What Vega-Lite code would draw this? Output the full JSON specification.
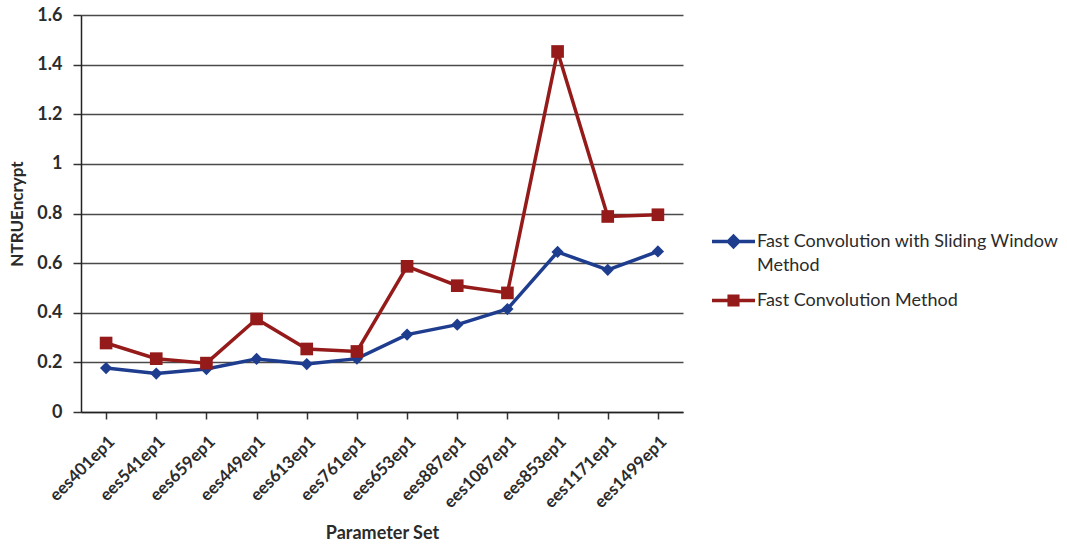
{
  "$schema": "https://vega.github.io/schema/vega-lite/v6.json",
  "autosize": "none",
  "width": 602,
  "height": 397,
  "padding": {"left": 81, "top": 15, "right": 384, "bottom": 132},
  "background": "white",
  "config": {
    "font": "Lato",
    "view": {"stroke": null},
    "axis": {"labelFont": "Lato", "titleFont": "Lato", "labelColor": "#2b2b2b", "titleColor": "#2b2b2b"}
  },
  "data": {
    "values": [
      {"param": "ees401ep1", "series": "Fast Convolution with Sliding Window Method", "value": 0.177},
      {"param": "ees541ep1", "series": "Fast Convolution with Sliding Window Method", "value": 0.155},
      {"param": "ees659ep1", "series": "Fast Convolution with Sliding Window Method", "value": 0.173},
      {"param": "ees449ep1", "series": "Fast Convolution with Sliding Window Method", "value": 0.214},
      {"param": "ees613ep1", "series": "Fast Convolution with Sliding Window Method", "value": 0.193},
      {"param": "ees761ep1", "series": "Fast Convolution with Sliding Window Method", "value": 0.215},
      {"param": "ees653ep1", "series": "Fast Convolution with Sliding Window Method", "value": 0.312},
      {"param": "ees887ep1", "series": "Fast Convolution with Sliding Window Method", "value": 0.352},
      {"param": "ees1087ep1", "series": "Fast Convolution with Sliding Window Method", "value": 0.415},
      {"param": "ees853ep1", "series": "Fast Convolution with Sliding Window Method", "value": 0.645},
      {"param": "ees1171ep1", "series": "Fast Convolution with Sliding Window Method", "value": 0.573},
      {"param": "ees1499ep1", "series": "Fast Convolution with Sliding Window Method", "value": 0.647},
      {"param": "ees401ep1", "series": "Fast Convolution Method", "value": 0.278},
      {"param": "ees541ep1", "series": "Fast Convolution Method", "value": 0.215},
      {"param": "ees659ep1", "series": "Fast Convolution Method", "value": 0.197},
      {"param": "ees449ep1", "series": "Fast Convolution Method", "value": 0.375},
      {"param": "ees613ep1", "series": "Fast Convolution Method", "value": 0.254},
      {"param": "ees761ep1", "series": "Fast Convolution Method", "value": 0.244},
      {"param": "ees653ep1", "series": "Fast Convolution Method", "value": 0.587},
      {"param": "ees887ep1", "series": "Fast Convolution Method", "value": 0.509},
      {"param": "ees1087ep1", "series": "Fast Convolution Method", "value": 0.48},
      {"param": "ees853ep1", "series": "Fast Convolution Method", "value": 1.453},
      {"param": "ees1171ep1", "series": "Fast Convolution Method", "value": 0.788},
      {"param": "ees1499ep1", "series": "Fast Convolution Method", "value": 0.795}
    ]
  },
  "encoding": {
    "x": {
      "field": "param",
      "type": "nominal",
      "sort": null,
      "scale": {"paddingInner": 0, "paddingOuter": 0},
      "axis": {
        "title": "Parameter Set",
        "titleFontSize": 18,
        "titleFontWeight": "bold",
        "titlePadding": 14,
        "labelAngle": -45,
        "labelFontSize": 17,
        "labelFontWeight": "bold",
        "labelPadding": 14,
        "bandPosition": 0,
        "tickSize": 7,
        "tickColor": "#333333",
        "domainColor": "#222222",
        "tickWidth": 1.5,
        "domainWidth": 1.5,
        "grid": false
      }
    },
    "y": {
      "field": "value",
      "type": "quantitative",
      "scale": {"domain": [0, 1.6], "nice": false},
      "axis": {
        "title": "NTRUEncrypt",
        "titleFontSize": 17,
        "titleFontWeight": "bold",
        "titlePadding": 10,
        "values": [0, 0.2, 0.4, 0.6, 0.8, 1, 1.2, 1.4, 1.6],
        "format": ".1~f",
        "labelFontSize": 18,
        "labelFontWeight": "bold",
        "labelPadding": 11,
        "tickSize": 8,
        "tickColor": "#333333",
        "domainColor": "#222222",
        "tickWidth": 1.5,
        "domainWidth": 1.5,
        "grid": true,
        "gridColor": "#4a4a4a",
        "gridWidth": 1.6
      }
    },
    "color": {
      "field": "series",
      "type": "nominal",
      "scale": {
        "domain": ["Fast Convolution with Sliding Window Method", "Fast Convolution Method"],
        "range": ["#1f3d8f", "#951b1b"]
      },
      "legend": {
        "title": null,
        "orient": "none",
        "legendX": 629,
        "legendY": 203,
        "padding": 0,
        "symbolType": "M-1,0H1",
        "symbolSize": 1849,
        "symbolStrokeWidth": 3.5,
        "labelFont": "Lato",
        "labelFontSize": 18,
        "labelColor": "#2b2b2b",
        "labelLimit": 400,
        "labelOffset": 0,
        "rowPadding": 2,
        "labelExpr": "datum.label == 'Fast Convolution with Sliding Window Method' ? ['Fast Convolution with Sliding Window', 'Method'] : datum.label",
        "encode": {
          "labels": {"update": {"lineHeight": {"value": 24}}},
          "symbols": {
            "update": {
              "shape": {"signal": "datum.value == 'Fast Convolution Method' ? 'M-1,0H1M-0.2,-0.2H0.2V0.2H-0.2Z' : 'M-1,0H1M0,-0.24L0.24,0L0,0.24L-0.24,0Z'"},
              "size": {"value": 1849},
              "fill": {"signal": "datum.value == 'Fast Convolution Method' ? '#951b1b' : '#1f3d8f'"},
              "stroke": {"signal": "datum.value == 'Fast Convolution Method' ? '#951b1b' : '#1f3d8f'"},
              "strokeWidth": {"value": 3.5},
              "strokeOpacity": {"value": 1},
              "fillOpacity": {"value": 1},
              "opacity": {"value": 1}
            }
          }
        }
      }
    }
  },
  "layer": [
    {
      "mark": {"type": "line", "strokeWidth": 3.5}
    },
    {
      "transform": [{"filter": "datum.series == 'Fast Convolution with Sliding Window Method'"}],
      "mark": {"type": "point", "filled": true, "opacity": 1, "shape": "diamond", "size": 150}
    },
    {
      "transform": [{"filter": "datum.series == 'Fast Convolution Method'"}],
      "mark": {"type": "point", "filled": true, "opacity": 1, "shape": "square", "size": 160}
    }
  ]
}
